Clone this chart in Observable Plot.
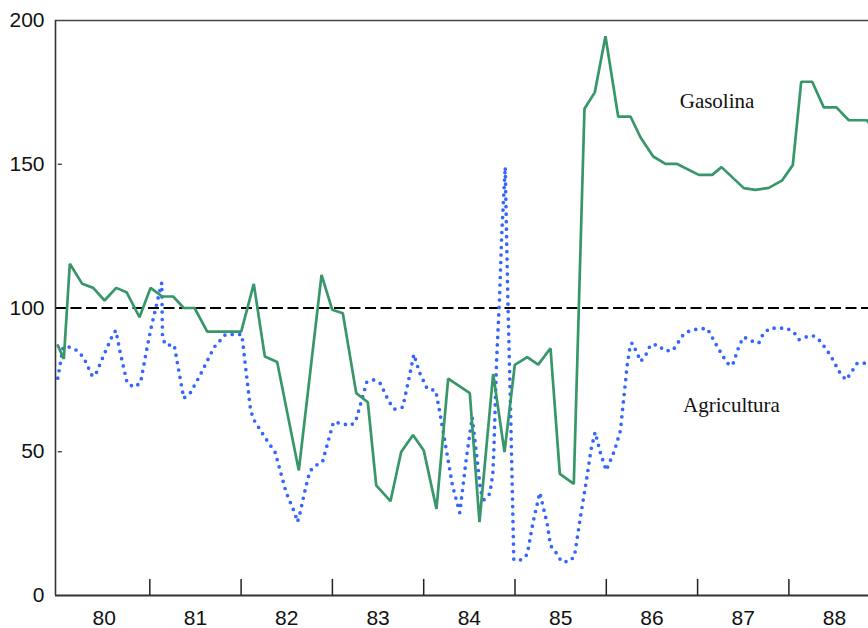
<!DOCTYPE html>
<html><head><meta charset="utf-8">
<script src="https://cdn.jsdelivr.net/npm/d3@7"></script>
<script src="https://cdn.jsdelivr.net/npm/@observablehq/plot@0.6"></script>
<style>
body{margin:0;background:#fff}
#chart svg{display:block;background:#fff}
g[aria-label="ylabels"] text, g[aria-label="xlabels"] text {letter-spacing:-1.8px}
g[aria-label="serieslabels"] text {letter-spacing:-1.4px}
</style></head><body><div id="chart"></div>
<script>
// Gasolina (solid green)
const gasT = [1979.992,1980.058,1980.124,1980.260,1980.380,1980.504,1980.632,1980.745,1980.887,
  1981.008,1981.136,1981.256,1981.372,1981.490,1981.629,
  1982.001,1982.139,1982.260,1982.395,1982.632,1982.881,1982.998,
  1983.114,1983.261,1983.388,1983.480,1983.636,1983.753,1983.883,
  1984.001,1984.140,1984.268,1984.505,1984.611,1984.761,1984.885,1984.998,
  1985.134,1985.254,1985.389,1985.491,1985.644,1985.761,1985.874,1985.991,
  1986.130,1986.265,1986.374,1986.514,1986.648,1986.776,
  1987.013,1987.160,1987.262,1987.506,1987.634,1987.780,1987.927,
  1988.043,1988.135,1988.255,1988.382,1988.521,1988.656,1988.857,1988.872];
const gasV = [87,82.3,115.4,108.4,107,102.6,107,105.5,96.8,
  107,104,104,100,100,91.8,
  91.8,108.4,83.1,81.2,43.5,111.5,99.4,
  98.2,70.4,67.2,38.3,32.8,49.9,55.8,
  50.4,30.1,75.4,70.4,25.5,77.1,49.9,80.2,
  82.9,80.3,86,42.3,38.8,169.3,175,194.5,
  166.6,166.6,159.4,152.7,150.1,150.1,
  146.3,146.3,149,141.7,141.1,141.8,144.4,
  149.7,178.7,178.7,169.8,169.8,165.3,165.3,164.5];

// Agricultura (blue dotted)
const agrT = [1979.992,1980.051,1980.124,1980.205,1980.277,1980.372,1980.416,1980.507,1980.599,1980.628,
  1980.676,1980.752,1980.825,1980.898,1980.964,1981.008,1981.062,1981.131,1981.139,1981.175,
  1981.267,1981.372,1981.446,1981.555,1981.705,1981.829,1982.008,1982.100,1982.128,1982.253,
  1982.374,1982.494,1982.585,1982.618,1982.647,1982.694,1982.752,1982.815,1982.892,1983.012,
  1983.103,1983.195,1983.253,1983.377,1983.453,1983.527,1983.618,1983.680,1983.771,1983.844,
  1983.892,1983.954,1984.038,1984.132,1984.195,1984.315,1984.395,1984.465,1984.531,1984.586,
  1984.622,1984.661,1984.724,1984.757,1984.768,1984.797,1984.830,1984.855,1984.893,1984.921,
  1984.951,1984.987,1985.068,1985.134,1985.195,1985.272,1985.353,1985.389,1985.455,1985.509,
  1985.593,1985.651,1985.706,1985.783,1985.834,1985.878,1985.936,1985.999,1986.090,1986.155,
  1986.229,1986.265,1986.287,1986.378,1986.440,1986.484,1986.564,1986.637,1986.728,1986.849,
  1986.922,1987.018,1987.108,1987.215,1987.324,1987.382,1987.459,1987.506,1987.594,1987.670,
  1987.718,1987.791,1987.974,1988.054,1988.112,1988.186,1988.263,1988.345,1988.456,1988.565,
  1988.627,1988.685,1988.748,1988.872];
const agrV = [75.6,86.4,86.4,85.2,82.7,76.2,77.6,84.4,91,92.2,
  84.5,73.9,72.5,73.9,85.2,92.2,99.6,108.8,89.6,87.1,
  87.1,68.6,70.6,76.9,86.4,90.8,90.8,65.5,61.7,55.4,
  49.7,35.8,28.9,25.6,28.9,35.8,43.2,45.2,46.5,60.4,
  59.8,59.1,60.4,74.3,75,73.7,67.5,64.8,65.5,76.3,
  83.9,77.6,71.9,71.3,60.4,38.3,28.8,47.2,62,47.2,
  36.5,33.3,35.4,42.3,49.9,80.6,103,125.8,149,103.8,
  65.5,12.4,12.4,14.3,25.1,35.8,24.9,17.4,14.7,11.8,
  11.8,13.6,25.1,40.2,51,56.8,49.6,43.5,50.4,57.4,
  80.2,87.5,87.8,81.4,84.1,87.2,87.2,85.2,85.2,91,
  92.2,92.8,92.8,86.6,80.8,80,87.2,89.9,88.5,87.8,
  91,93,93,91.6,89,89.9,90.4,88.5,83.5,77.1,
  75,77.7,80.8,80.8];

const yTicks = [0, 50, 100, 150, 200];
const yMinorTicks = [50, 150];
const yearBounds = [1981, 1982, 1983, 1984, 1985, 1986, 1987, 1988];
const yearMids = [1980.5, 1981.5, 1982.5, 1983.5, 1984.5, 1985.5, 1986.5, 1987.5, 1988.5];
const yearLabels = ["80", "81", "82", "83", "84", "85", "86", "87", "88"];
const seriesLabels = [
  {name: "Gasolina", t: 1987.213, v: 171.8},
  {name: "Agricultura", t: 1987.371, v: 66.1}
];
const reference = 100;

const xMin = 1979.967, xMax = 1988.872;
const gas = gasT.map((t, i) => ({t, v: gasV[i]}));
const agr = agrT.map((t, i) => ({t, v: agrV[i]}));

const green = "#379769";
const blue = "#3366ff";
const sans = "'Liberation Sans', Arial, sans-serif";
const serif = "'Liberation Serif', 'Times New Roman', serif";

const chart = Plot.plot({
  width: 868,
  height: 628,
  marginTop: 20,
  marginBottom: 33,
  marginLeft: 55,
  marginRight: 0,
  x: {domain: [xMin, xMax], axis: null},
  y: {domain: [0, 200], axis: null},
  marks: [
    Plot.ruleY([200], {stroke: "#444", strokeWidth: 1.6}),
    Plot.ruleY([reference], {stroke: "#000", strokeWidth: 2, strokeDasharray: "11 4.5"}),
    Plot.line(agr, {x: "t", y: "v", stroke: blue, strokeWidth: 3.7, strokeDasharray: "0 7.5",
      strokeLinecap: "round", strokeLinejoin: "round", clip: true}),
    Plot.line(gas, {x: "t", y: "v", stroke: green, strokeWidth: 2.7, strokeLinejoin: "miter", clip: true}),
    Plot.ruleX([xMin], {stroke: "#333", strokeWidth: 1.6}),
    Plot.ruleY([0], {stroke: "#333", strokeWidth: 2}),
    Plot.ruleX(yearBounds, {y1: 0, y2: 5.6, stroke: "#222", strokeWidth: 1.5}),
    Plot.ruleY(yMinorTicks, {x1: xMin + 0.03, x2: xMin + 0.075, stroke: "#222", strokeWidth: 1.2}),
    Plot.text(yTicks, {x: xMin, y: d => d, text: d => String(d), textAnchor: "end", dx: -11,
      fontSize: 21, fontFamily: sans, fill: "#111", ariaLabel: "ylabels"}),
    Plot.text(yearLabels, {x: (d, i) => yearMids[i], y: 0, text: d => d, dy: 23,
      fontSize: 21, fontFamily: sans, fill: "#111", ariaLabel: "xlabels"}),
    Plot.text(seriesLabels, {x: "t", y: "v", text: "name", fontSize: 21, fontFamily: serif,
      fill: "#111", ariaLabel: "serieslabels"})
  ]
});
document.getElementById("chart").appendChild(chart);
</script>
</body></html>
